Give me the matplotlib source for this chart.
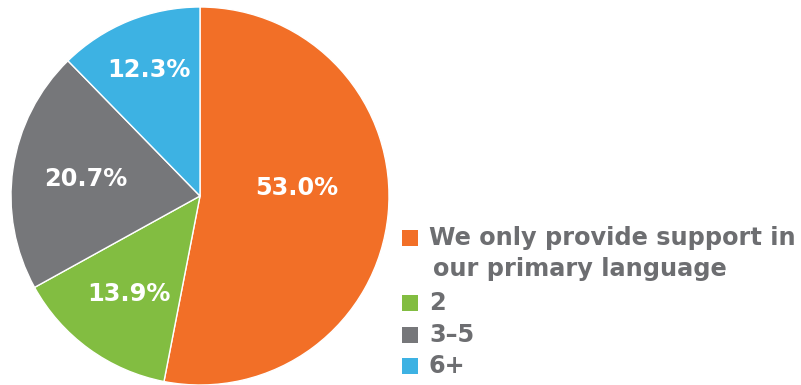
import matplotlib.pyplot as plt
from matplotlib.patches import Rectangle
import numpy as np

# Share of respondents by number of supported languages
categories = ['We only provide support in\nour primary language', '2', '3–5', '6+']
shares = [53.0, 13.9, 20.7, 12.3]
colors = ['#F26F27', '#82BD41', '#76777A', '#3DB2E3']

W, H = 801, 385
plt.rcParams['font.family'] = ['DejaVu Sans']
fig = plt.figure(figsize=(W / 100, H / 100), dpi=100)
fig.patch.set_facecolor('white')

# Pie axes: centre (200, 196) px, radius 189 px
cx, cy, r = 200, 196, 189
ax = fig.add_axes([(cx - r) / W, (H - cy - r) / H, 2 * r / W, 2 * r / H])
wedges, _ = ax.pie(shares, colors=colors, startangle=90, counterclock=False,
                   wedgeprops=dict(edgecolor='white', linewidth=1.0))
ax.set_xlim(-1, 1)
ax.set_ylim(-1, 1)
ax.set_aspect('equal')
ax.axis('off')

# Value labels along each wedge's middle angle
label_r = [0.51, 0.64, 0.61, 0.72]
for w, v, lr in zip(wedges, shares, label_r):
    ang = np.radians((w.theta1 + w.theta2) / 2)
    x, y = lr * np.cos(ang), lr * np.sin(ang)
    if w is wedges[0]:
        x, y = 0.51, 0.04
    ax.text(x, y, f'{v:.1f}%', color='white', fontsize=17.3, fontweight='bold',
            ha='center', va='center')

# Legend drawn by hand
row_y = [238, 303, 335, 366]
for cat, col, y in zip(categories, colors, row_y):
    fig.patches.append(Rectangle((402 / W, (H - y - 8) / H), 16 / W, 16 / H,
                                 transform=fig.transFigure, facecolor=col, edgecolor='none'))
    lines = cat.split('\n')
    for i, line in enumerate(lines):
        x0 = 429 if i == 0 else 433
        fig.text(x0 / W, (H - y - 31 * i) / H, line, color='#6D6E71', fontsize=17.3,
                 fontweight='bold', ha='left', va='center')

fig.savefig('out.png', dpi=100, facecolor='white')
